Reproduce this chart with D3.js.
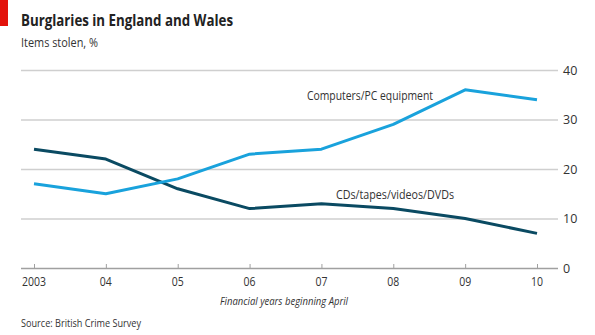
<!DOCTYPE html>
<html><head><meta charset="utf-8">
<script src="https://cdn.jsdelivr.net/npm/d3@7"></script>
<style>
body{margin:0;background:#fff;}
text{font-family:"Open Sans","Noto Sans",sans-serif;}
</style></head>
<body><svg id="c" width="595" height="335"></svg>
<script>
const years = ["2003","04","05","06","07","08","09","10"];
const computers = [17, 15, 18, 23, 24, 29, 36, 34];
const cds = [24, 22, 16, 12, 13, 12, 10, 7];
const yTicks = [0, 10, 20, 30, 40];
const seriesNames = ["Computers/PC equipment", "CDs/tapes/videos/DVDs"];

const svg = d3.select("#c");
const x = d3.scalePoint().domain(years).range([34, 537]);
const y = d3.scaleLinear().domain([0, 40]).range([268, 70]);

svg.append("rect").attr("x",0).attr("y",0).attr("width",8).attr("height",26).attr("fill","#e3120b");
svg.append("text").attr("x",21).attr("y",26).attr("font-size",16.5).attr("font-weight","bold").attr("fill","#222")
  .attr("textLength",212).attr("lengthAdjust","spacingAndGlyphs").text("Burglaries in England and Wales");
svg.append("text").attr("x",21).attr("y",47).attr("font-size",13).attr("fill","#333")
  .attr("textLength",77).attr("lengthAdjust","spacingAndGlyphs").text("Items stolen, %");

// gridlines
const yAxis = d3.axisRight(y).tickValues(yTicks).tickSize(537).tickFormat(d3.format("d"));
const gy = svg.append("g").attr("transform","translate(21,0)").call(yAxis);
gy.select(".domain").remove();
gy.selectAll(".tick line").attr("stroke", d => d===0 ? "#a0a0a0" : "#cfcfcf").attr("stroke-width",1.5);
gy.selectAll(".tick text").attr("x",542).attr("font-size",12.5).attr("fill","#333").style("font-family","'Open Sans',sans-serif");

// x axis ticks
const xAxis = d3.axisTop(x).tickSize(4).tickFormat("");
const gx = svg.append("g").attr("transform","translate(0,268)").call(xAxis);
gx.select(".domain").remove();
gx.selectAll(".tick line").attr("stroke","#a0a0a0").attr("stroke-width",1);
svg.append("g").selectAll("text").data(years).join("text")
  .attr("x", d => x(d)).attr("y",286).attr("text-anchor","middle").attr("font-size",12.5).attr("fill","#333")
  .attr("textLength", d => d.length*6).attr("lengthAdjust","spacingAndGlyphs").text(d=>d);

const line = d3.line().x((d,i)=>x(years[i])).y(d=>y(d));
svg.append("path").datum(cds).attr("d",line).attr("fill","none").attr("stroke","#0a4a62").attr("stroke-width",3).attr("stroke-linejoin","round");
svg.append("path").datum(computers).attr("d",line).attr("fill","none").attr("stroke","#19a2dc").attr("stroke-width",3).attr("stroke-linejoin","round");

svg.append("text").attr("x",307).attr("y",100).attr("font-size",13).attr("fill","#333")
  .attr("textLength",126).attr("lengthAdjust","spacingAndGlyphs").text(seriesNames[0]);
svg.append("text").attr("x",336).attr("y",199).attr("font-size",13).attr("fill","#333")
  .attr("textLength",118).attr("lengthAdjust","spacingAndGlyphs").text(seriesNames[1]);

svg.append("text").attr("x",220).attr("y",305).attr("font-size",11.5).attr("font-style","italic").attr("fill","#333")
  .attr("textLength",128).attr("lengthAdjust","spacingAndGlyphs").text("Financial years beginning April");
svg.append("text").attr("x",21).attr("y",327).attr("font-size",11.5).attr("fill","#333")
  .attr("textLength",120).attr("lengthAdjust","spacingAndGlyphs").text("Source: British Crime Survey");
</script></body></html>
